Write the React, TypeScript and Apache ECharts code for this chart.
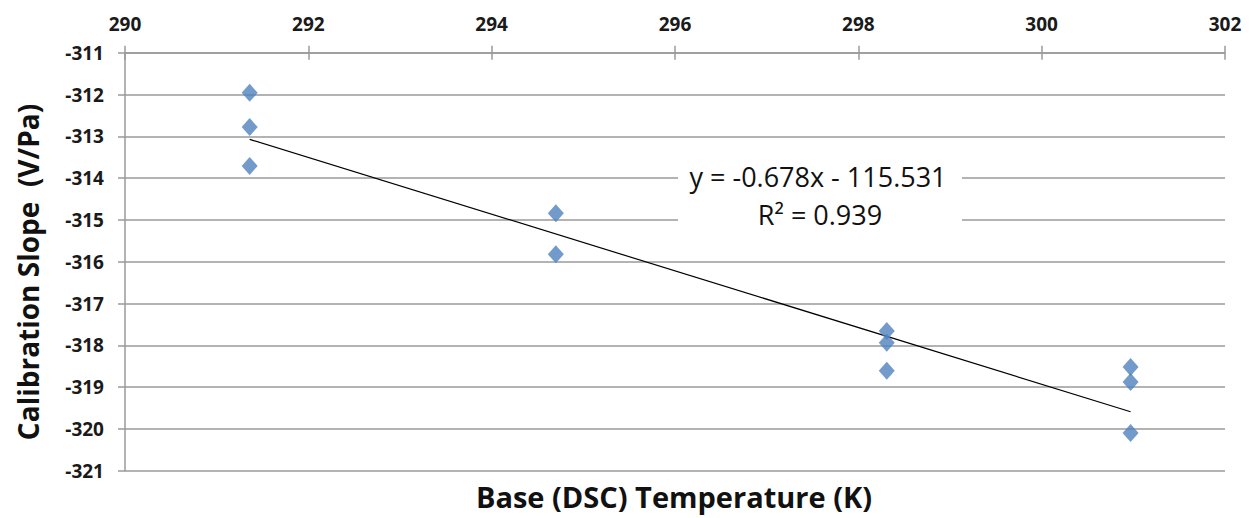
import React, { useEffect, useRef } from "react";
import * as echarts from "echarts";

const temperatureK = [291.36, 291.36, 291.36, 294.7, 294.7, 298.31, 298.31, 298.31, 300.97, 300.97, 300.97];
const slopeVPa = [-311.96, -312.78, -313.71, -314.84, -315.82, -317.66, -317.94, -318.61, -318.52, -318.88, -320.1];
const trendSlope = -0.678;
const trendIntercept = -115.531;
const equationLines = ["y = -0.678x - 115.531", "R² = 0.939"];
const xTitle = "Base (DSC) Temperature (K)";
const yTitle = "Calibration Slope  (V/Pa)";

export default function App() {
  const ref = useRef<HTMLDivElement>(null);
  useEffect(() => {
    if (!ref.current) return;
    const chart = echarts.init(ref.current, null, { renderer: "svg" });
    const pts = temperatureK.map((x, i) => [x, slopeVPa[i]]);
    const xMin = Math.min(...temperatureK);
    const xMax = Math.max(...temperatureK);
    const trend = [
      [xMin, trendSlope * xMin + trendIntercept],
      [xMax, trendSlope * xMax + trendIntercept],
    ];
    const font = "'Open Sans', 'Liberation Sans', Arial, sans-serif";
    const axisGray = "#9a9a9a";
    chart.setOption({
      animation: false,
      backgroundColor: "#ffffff",
      grid: { left: 125, right: 28, top: 52.7, bottom: 47.3, containLabel: false },
      xAxis: [
        {
          type: "value",
          position: "top",
          min: 290,
          max: 302,
          interval: 2,
          axisLine: { show: true, onZero: false, lineStyle: { color: axisGray, width: 1.5 } },
          axisTick: { show: true, length: 7, lineStyle: { color: axisGray, width: 1.5 } },
          axisLabel: { margin: 19, fontFamily: font, fontWeight: "bold", fontSize: 19, color: "#1a1a1a" },
          splitLine: { show: false },
        },
        {
          type: "value",
          position: "top",
          min: 290,
          max: 302,
          interval: 2,
          axisLine: { show: false },
          axisTick: { show: true, inside: true, length: 7, lineStyle: { color: axisGray, width: 1.5 } },
          axisLabel: { show: false },
          splitLine: { show: false },
        },
      ],
      yAxis: {
        type: "value",
        min: -321,
        max: -311,
        interval: 1,
        axisLine: { show: true, onZero: false, lineStyle: { color: axisGray, width: 1.5 } },
        axisTick: { show: true, length: 7, lineStyle: { color: axisGray, width: 1.5 } },
        axisLabel: { margin: 21, fontFamily: font, fontWeight: "bold", fontSize: 19, color: "#1a1a1a" },
        splitLine: { show: true, lineStyle: { color: axisGray, width: 1.5 } },
      },
      series: [
        {
          type: "line",
          data: trend,
          showSymbol: false,
          symbol: "none",
          lineStyle: { color: "#000000", width: 1.2 },
          z: 2,
          silent: true,
        },
        {
          type: "scatter",
          data: pts,
          symbol: "diamond",
          symbolSize: [16, 18],
          itemStyle: { color: "#4f81bd" },
          z: 3,
        },
      ],
      graphic: [
        {
          type: "rect",
          z: 9,
          shape: { x: 678, y: 157, width: 284, height: 74 },
          style: { fill: "#ffffff" },
        },
        {
          type: "text",
          x: 818,
          y: 176,
          z: 10,
          style: {
            text: equationLines[0],
            fontFamily: font,
            fontSize: 27,
            fill: "#111111",
            align: "center",
            verticalAlign: "middle",
          },
        },
        {
          type: "text",
          x: 820,
          y: 214,
          z: 10,
          style: {
            text: equationLines[1],
            fontFamily: font,
            fontSize: 27,
            fill: "#111111",
            align: "center",
            verticalAlign: "middle",
          },
        },
        {
          type: "text",
          x: 674,
          y: 496,
          style: {
            text: xTitle,
            fontFamily: font,
            fontSize: 29,
            fontWeight: "bold",
            fill: "#111111",
            align: "center",
            verticalAlign: "middle",
          },
        },
        {
          type: "text",
          rotation: Math.PI / 2,
          x: 28,
          y: 272,
          style: {
            text: yTitle,
            fontFamily: font,
            fontSize: 28,
            fontWeight: "bold",
            fill: "#111111",
            align: "center",
            verticalAlign: "middle",
          },
        },
      ],
    });
    return () => chart.dispose();
  }, []);
  return <div ref={ref} style={{ width: 1253, height: 518, position: "absolute", left: 0, top: 0 }} />;
}
